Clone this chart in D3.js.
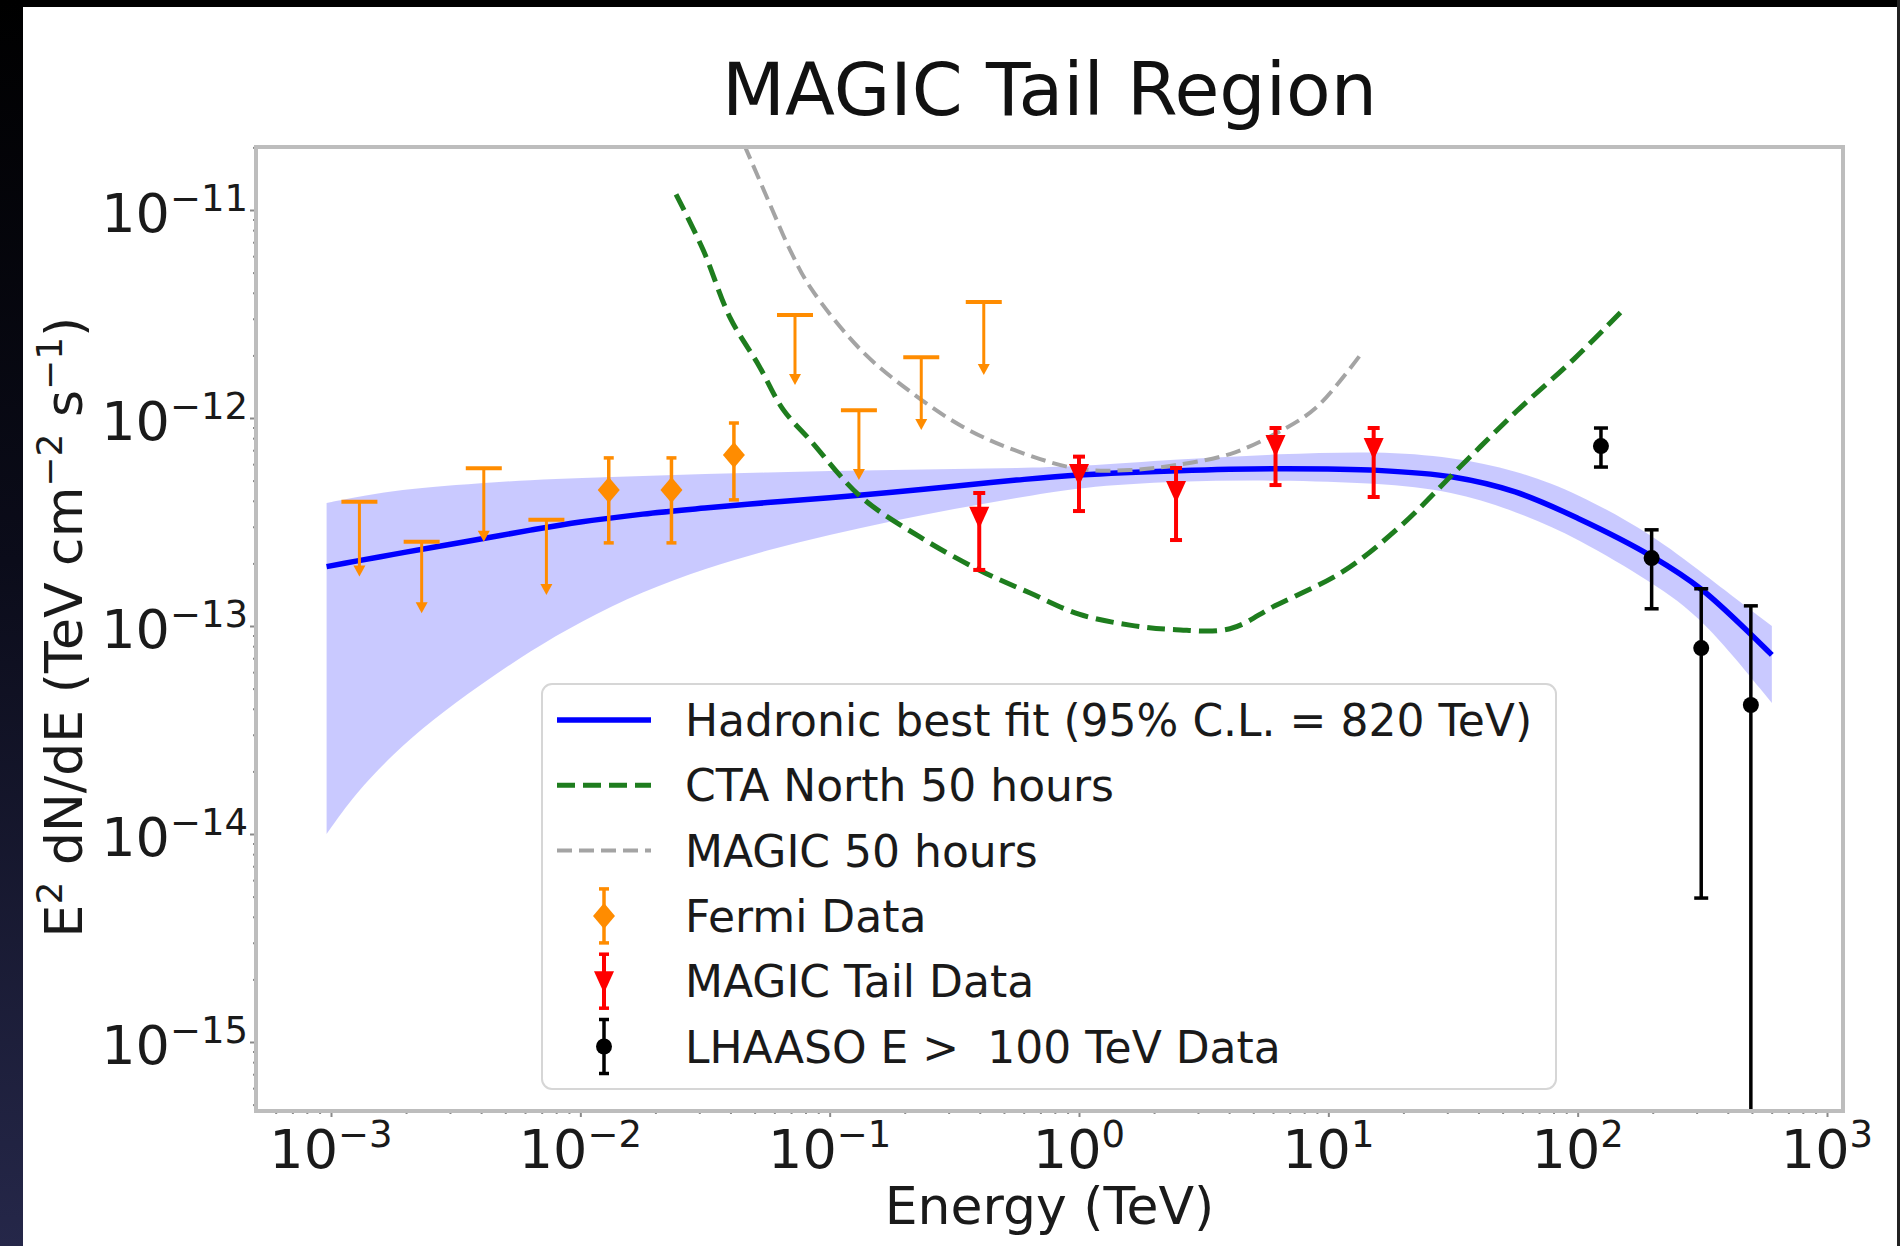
<!DOCTYPE html>
<html>
<head>
<meta charset="utf-8">
<script src="https://cdn.jsdelivr.net/npm/d3@7"></script>
<style>
  body { margin: 0; background: #fff; }
  svg { display: block; font-family: "DejaVu Sans", sans-serif; }
  text { white-space: pre; }
</style>
</head>
<body>
<div id="chart"></div>
<script>
// ----- data (E in TeV, flux in TeV cm^-2 s^-1) -----

// Fermi points, upper limits have no hi value
var fermiE  = [1.30e-3, 2.31e-3, 4.10e-3, 7.31e-3, 0.0130, 0.0232, 0.0413, 0.0726, 0.131, 0.233, 0.415];
var fermiF  = [3.96e-13, 2.54e-13, 5.73e-13, 3.24e-13, 4.51e-13, 4.51e-13, 6.64e-13, 3.13e-12, 1.09e-12, 1.96e-12, 3.61e-12];
var fermiLo = [1.73e-13, 1.15e-13, 2.54e-13, 1.41e-13, 2.51e-13, 2.51e-13, 4.04e-13, 1.44e-12, 5.03e-13, 8.75e-13, 1.61e-12];
var fermiHi = [null, null, null, null, 6.43e-13, 6.43e-13, 9.46e-13, null, null, null, null];
var fermiUL = [true, true, true, true, false, false, false, true, true, true, true];

var magicE  = [0.398, 1.0, 2.45, 6.14, 15.2];
var magicF  = [3.35e-13, 5.38e-13, 4.46e-13, 7.41e-13, 7.18e-13];
var magicLo = [1.86e-13, 3.57e-13, 2.59e-13, 4.76e-13, 4.17e-13];
var magicHi = [4.36e-13, 6.52e-13, 5.75e-13, 8.95e-13, 8.95e-13];

var lhaasoE  = [124, 198, 313, 495];
var lhaasoF  = [7.33e-13, 2.12e-13, 7.83e-14, 4.17e-14];
var lhaasoLo = [5.81e-13, 1.21e-13, 4.92e-15, 1e-16];
var lhaasoHi = [8.95e-13, 2.90e-13, 1.51e-13, 1.25e-13];

// hadronic fit and its band
var fitE   = [9.6e-4, 1.26e-3, 1.78e-3, 2.51e-3, 3.98e-3, 6.31e-3, 0.01, 0.0178, 0.0316, 0.0562, 0.1, 0.178,
              0.316, 0.562, 1.0, 2.51, 6.31, 15.8, 31.6, 56.2, 100, 200, 316, 601];
var fitF   = [1.93e-13, 2.05e-13, 2.21e-13, 2.38e-13, 2.62e-13, 2.89e-13, 3.16e-13, 3.45e-13, 3.69e-13, 3.92e-13, 4.14e-13, 4.40e-13,
              4.70e-13, 5.03e-13, 5.32e-13, 5.58e-13, 5.70e-13, 5.60e-13, 5.20e-13, 4.41e-13, 3.30e-13, 2.15e-13, 1.49e-13, 7.26e-14];
var bandHi = [3.90e-13, 4.17e-13, 4.46e-13, 4.66e-13, 4.87e-13, 5.03e-13, 5.14e-13, 5.26e-13, 5.38e-13, 5.47e-13, 5.56e-13, 5.62e-13,
              5.68e-13, 5.75e-13, 5.85e-13, 6.35e-13, 6.71e-13, 6.94e-13, 6.49e-13, 5.62e-13, 4.36e-13, 2.74e-13, 1.80e-13, 1.00e-13];
var bandLo = [1.00e-14, 1.58e-14, 2.43e-14, 3.49e-14, 5.23e-14, 7.60e-14, 1.05e-13, 1.47e-13, 1.89e-13, 2.32e-13, 2.75e-13, 3.20e-13,
              3.66e-13, 4.12e-13, 4.65e-13, 4.98e-13, 5.03e-13, 4.87e-13, 4.46e-13, 3.57e-13, 2.65e-13, 1.61e-13, 1.10e-13, 4.26e-14];

// sensitivity curves
var ctaE = [0.0242, 0.0311, 0.0399, 0.0521, 0.065, 0.0834, 0.1336, 0.230, 0.397, 0.637, 1.0, 1.60, 2.45, 4.03, 6.11, 11.55,
            19.7, 33.4, 57.0, 96.6, 156];
var ctaF = [1.19e-11, 6.42e-12, 3.03e-12, 1.78e-12, 1.10e-12, 7.84e-13, 4.17e-13, 2.68e-13, 1.86e-13, 1.44e-13, 1.14e-13, 1.01e-13,
            9.6e-14, 9.7e-14, 1.25e-13, 1.84e-13, 3.06e-13, 5.75e-13, 1.08e-12, 1.92e-12, 3.42e-12];

var magic50E = [0.0418, 0.0458, 0.0577, 0.0694, 0.0834, 0.1336, 0.214, 0.343, 0.549, 1.0, 1.60, 2.45, 4.03, 6.11, 8.92, 13.6];
var magic50F = [2.56e-11, 2.01e-11, 1.06e-11, 6.42e-12, 4.27e-12, 2.12e-12, 1.32e-12, 9.05e-13, 7.02e-13, 5.69e-13, 5.62e-13,
                5.94e-13, 6.71e-13, 8.38e-13, 1.12e-12, 2.05e-12];

var xTickExp = [-3, -2, -1, 0, 1, 2, 3];
var yTickExp = [-11, -12, -13, -14, -15];

var legendLabels = ["Hadronic best fit (95% C.L. = 820 TeV)", "CTA North 50 hours", "MAGIC 50 hours",
                    "Fermi Data", "MAGIC Tail Data", "LHAASO E >  100 TeV Data"];

// ----- layout -----
var W = 1900, H = 1246;
var margin = {top: 147, right: 57, bottom: 135, left: 256},
    width = W - margin.left - margin.right,
    height = H - margin.top - margin.bottom;

var svg0 = d3.select("#chart")
  .append("svg")
    .attr("width", W)
    .attr("height", H);

// slide frame: black top, dark strip on the left
var defs = svg0.append("defs");
var grad = defs.append("linearGradient").attr("id", "leftgrad")
    .attr("x1", 0).attr("y1", 0).attr("x2", 0).attr("y2", 1);
grad.append("stop").attr("offset", "0%").attr("stop-color", "#000");
grad.append("stop").attr("offset", "45%").attr("stop-color", "#0b0c1a");
grad.append("stop").attr("offset", "100%").attr("stop-color", "#252749");

svg0.append("rect").attr("width", W).attr("height", H).attr("fill", "#fff");
svg0.append("rect").attr("width", W).attr("height", 7).attr("fill", "#000");
svg0.append("rect").attr("width", 23).attr("height", H).attr("fill", "url(#leftgrad)");
svg0.append("rect").attr("x", W - 3).attr("width", 3).attr("height", H).attr("fill", "#222");

defs.append("clipPath").attr("id", "plotclip")
  .append("rect").attr("width", width).attr("height", height);

var svg = svg0.append("g")
    .attr("transform", "translate(" + margin.left + "," + margin.top + ")");

var x = d3.scaleLog().domain([1e-3, 1e3]).range([75, 1571]);
var y = d3.scaleLog().domain([1e-11, 1e-15]).range([63, 895]);

// minor tick values inside the visible range
function minors(scale, len) {
  var a = scale.invert(0), b = scale.invert(len);
  var lo = Math.min(a, b), hi = Math.max(a, b);
  var out = [];
  for (var p = Math.floor(Math.log10(lo)); p <= Math.ceil(Math.log10(hi)); p++) {
    for (var m = 2; m < 10; m++) {
      var v = m * Math.pow(10, p);
      if (v > lo && v < hi) out.push(v);
    }
  }
  return out;
}

// ----- axes -----
var xMaj = xTickExp.map(function(e){ return Math.pow(10, e); });
var yMaj = yTickExp.map(function(e){ return Math.pow(10, e); });

var gx = svg.append("g").attr("transform", "translate(0," + height + ")");
gx.call(d3.axisBottom(x).tickValues(xMaj).tickSize(6).tickFormat(""));
gx.append("g").call(d3.axisBottom(x).tickValues(minors(x, width)).tickSize(3).tickFormat(""));

var gy = svg.append("g");
gy.call(d3.axisLeft(y).tickValues(yMaj).tickSize(6).tickFormat(""));
gy.append("g").call(d3.axisLeft(y).tickValues(minors(y, height)).tickSize(3).tickFormat(""));

svg.selectAll(".domain").remove();
svg.selectAll(".tick line").attr("stroke", "#8a8a8a").attr("stroke-width", 2);

function sup(sel, exp, size) {
  sel.append("tspan").text("10");
  sel.append("tspan")
    .attr("dy", -21)
    .attr("font-size", size)
    .text(exp < 0 ? "\u2212" + (-exp) : String(exp));
}

svg.append("g").selectAll("text")
  .data(xTickExp)
  .enter().append("text")
    .attr("x", function(d){ return x(Math.pow(10, d)); })
    .attr("y", 1168 - margin.top)
    .attr("text-anchor", "middle")
    .attr("font-size", 54)
    .attr("fill", "#1a1a1a")
    .each(function(d){ sup(d3.select(this), d, 37); });

svg.append("g").selectAll("text")
  .data(yTickExp)
  .enter().append("text")
    .attr("x", -8)
    .attr("y", function(d){ return y(Math.pow(10, d)) + 22; })
    .attr("text-anchor", "end")
    .attr("font-size", 54)
    .attr("fill", "#1a1a1a")
    .each(function(d){ sup(d3.select(this), d, 37); });

// titles
svg.append("text")
    .attr("x", width / 2)
    .attr("y", 115 - margin.top)
    .attr("text-anchor", "middle")
    .attr("font-size", 73)
    .attr("fill", "#111")
    .text("MAGIC Tail Region");

svg.append("text")
    .attr("x", width / 2)
    .attr("y", 1224 - margin.top)
    .attr("text-anchor", "middle")
    .attr("font-size", 52)
    .attr("fill", "#1a1a1a")
    .text("Energy (TeV)");

var ylab = svg.append("text")
    .attr("transform", "translate(" + (82 - margin.left) + "," + (627 - margin.top) + ") rotate(-90)")
    .attr("text-anchor", "middle")
    .attr("font-size", 52)
    .attr("fill", "#1a1a1a");
ylab.append("tspan").text("E");
ylab.append("tspan").attr("dy", -20).attr("font-size", 36).text("2");
ylab.append("tspan").attr("dy", 20).text(" dN/dE (TeV cm");
ylab.append("tspan").attr("dy", -20).attr("font-size", 36).text("\u22122");
ylab.append("tspan").attr("dy", 20).text(" s");
ylab.append("tspan").attr("dy", -20).attr("font-size", 36).text("\u22121");
ylab.append("tspan").attr("dy", 20).text(")");

// ----- data layer -----
var plot = svg.append("g").attr("clip-path", "url(#plotclip)");

var fit = fitE.map(function(e, i){ return {e: e, f: fitF[i], lo: bandLo[i], hi: bandHi[i]}; });

plot.append("path")
    .datum(fit)
    .attr("fill", "#0000ff")
    .attr("fill-opacity", 0.21)
    .attr("d", d3.area()
      .x(function(d){ return x(d.e); })
      .y0(function(d){ return y(d.lo); })
      .y1(function(d){ return y(d.hi); })
      .curve(d3.curveBasis));

var line = d3.line()
    .x(function(d){ return x(d[0]); })
    .y(function(d){ return y(d[1]); })
    .curve(d3.curveCatmullRom.alpha(0.5));

plot.append("path")
    .datum(fitE.map(function(e, i){ return [e, fitF[i]]; }))
    .attr("fill", "none")
    .attr("stroke", "#0000ff")
    .attr("stroke-width", 5.5)
    .attr("d", line);

plot.append("path")
    .datum(ctaE.map(function(e, i){ return [e, ctaF[i]]; }))
    .attr("fill", "none")
    .attr("stroke", "#1e7d1e")
    .attr("stroke-width", 5)
    .attr("stroke-dasharray", "18,8")
    .attr("d", line);

plot.append("path")
    .datum(magic50E.map(function(e, i){ return [e, magic50F[i]]; }))
    .attr("fill", "none")
    .attr("stroke", "#a4a4a4")
    .attr("stroke-width", 4)
    .attr("stroke-dasharray", "15,7")
    .attr("d", line);

// Fermi
var orange = "#ff8c00";
var fermi = fermiE.map(function(e, i){
  return {e: e, f: fermiF[i], lo: fermiLo[i], hi: fermiHi[i], ul: fermiUL[i]};
});
var fg = plot.append("g").selectAll("g").data(fermi).enter().append("g")
    .attr("transform", function(d){ return "translate(" + x(d.e) + ",0)"; });

fg.filter(function(d){ return d.ul; }).each(function(d){
  var g = d3.select(this);
  g.append("line").attr("y1", y(d.f)).attr("y2", y(d.lo) - 8)
    .attr("stroke", orange).attr("stroke-width", 3);
  g.append("line").attr("x1", -18).attr("x2", 18).attr("y1", y(d.f)).attr("y2", y(d.f))
    .attr("stroke", orange).attr("stroke-width", 4);
  g.append("path")
    .attr("d", "M-6," + (y(d.lo) - 11) + "L6," + (y(d.lo) - 11) + "L0," + y(d.lo) + "Z")
    .attr("fill", orange);
});

fg.filter(function(d){ return !d.ul; }).each(function(d){
  var g = d3.select(this);
  g.append("line").attr("y1", y(d.hi)).attr("y2", y(d.lo))
    .attr("stroke", orange).attr("stroke-width", 3.5);
  [d.hi, d.lo].forEach(function(v){
    g.append("line").attr("x1", -5).attr("x2", 5).attr("y1", y(v)).attr("y2", y(v))
      .attr("stroke", orange).attr("stroke-width", 3.5);
  });
  g.append("path")
    .attr("transform", "translate(0," + y(d.f) + ")")
    .attr("d", "M0,-13L11,0L0,13L-11,0Z")
    .attr("fill", orange);
});

// generic error bars with a marker
function errbars(E, F, LO, HI, color, lw, cap, marker) {
  var g = plot.append("g").selectAll("g")
    .data(E.map(function(e, i){ return {e: e, f: F[i], lo: LO[i], hi: HI[i]}; }))
    .enter().append("g")
      .attr("transform", function(d){ return "translate(" + x(d.e) + ",0)"; });
  g.append("line")
    .attr("y1", function(d){ return y(d.hi); })
    .attr("y2", function(d){ return y(d.lo); })
    .attr("stroke", color).attr("stroke-width", lw);
  g.append("line")
    .attr("x1", -cap).attr("x2", cap)
    .attr("y1", function(d){ return y(d.hi); })
    .attr("y2", function(d){ return y(d.hi); })
    .attr("stroke", color).attr("stroke-width", lw);
  g.append("line")
    .attr("x1", -cap).attr("x2", cap)
    .attr("y1", function(d){ return y(d.lo); })
    .attr("y2", function(d){ return y(d.lo); })
    .attr("stroke", color).attr("stroke-width", lw);
  g.append("path")
    .attr("transform", function(d){ return "translate(0," + y(d.f) + ")"; })
    .attr("d", marker)
    .attr("fill", color);
}

var triDown = "M-10,-10L10,-10L0,12Z";
var dot = "M8,0A8,8 0 1,1 -8,0A8,8 0 1,1 8,0Z";
errbars(magicE, magicF, magicLo, magicHi, "#ff0000", 4, 6, triDown);
errbars(lhaasoE, lhaasoF, lhaasoLo, lhaasoHi, "#000000", 3.5, 7, dot);

// plot frame
svg.append("rect")
    .attr("width", width)
    .attr("height", height)
    .attr("fill", "none")
    .attr("stroke", "#bdbdbd")
    .attr("stroke-width", 4);

// ----- LEGEND -----
var lg = svg.append("g").attr("transform", "translate(" + (542 - margin.left) + "," + (684 - margin.top) + ")");
lg.append("rect")
    .attr("width", 1014)
    .attr("height", 405)
    .attr("rx", 10)
    .attr("fill", "#fff")
    .attr("fill-opacity", 0.85)
    .attr("stroke", "#d6d6d6")
    .attr("stroke-width", 2);

var rowY = function(i){ return 36 + i * 65.3; };

var rows = lg.selectAll(".legend")
  .data(legendLabels)
  .enter().append("g")
    .attr("class", "legend")
    .attr("transform", function(d, i){ return "translate(0," + rowY(i) + ")"; });

rows.append("text")
    .attr("x", 143)
    .attr("y", 16)
    .attr("font-size", 44)
    .attr("fill", "#1a1a1a")
    .text(function(d){ return d; });

var hx0 = 15, hx1 = 109, hxc = 62;
var lineStyles = [["#0000ff", 5.5, null], ["#1e7d1e", 5, "18,8"], ["#a4a4a4", 4, "15,7"]];
rows.filter(function(d, i){ return i < 3; }).each(function(d, i){
  d3.select(this).append("line")
    .attr("x1", hx0).attr("x2", hx1)
    .attr("stroke", lineStyles[i][0])
    .attr("stroke-width", lineStyles[i][1])
    .attr("stroke-dasharray", lineStyles[i][2]);
});

var markStyles = [[orange, "M0,-13L11,0L0,13L-11,0Z", 3.5], ["#ff0000", triDown, 4], ["#000", dot, 3.5]];
rows.filter(function(d, i){ return i >= 3; }).each(function(d, i){
  var g = d3.select(this).append("g").attr("transform", "translate(" + hxc + ",0)");
  var c = markStyles[i][0];
  g.append("line").attr("y1", -27).attr("y2", 27).attr("stroke", c).attr("stroke-width", markStyles[i][2]);
  g.append("line").attr("x1", -5).attr("x2", 5).attr("y1", -27).attr("y2", -27).attr("stroke", c).attr("stroke-width", 3.5);
  g.append("line").attr("x1", -5).attr("x2", 5).attr("y1", 27).attr("y2", 27).attr("stroke", c).attr("stroke-width", 3.5);
  g.append("path").attr("d", markStyles[i][1]).attr("fill", c);
});
</script>
</body>
</html>
